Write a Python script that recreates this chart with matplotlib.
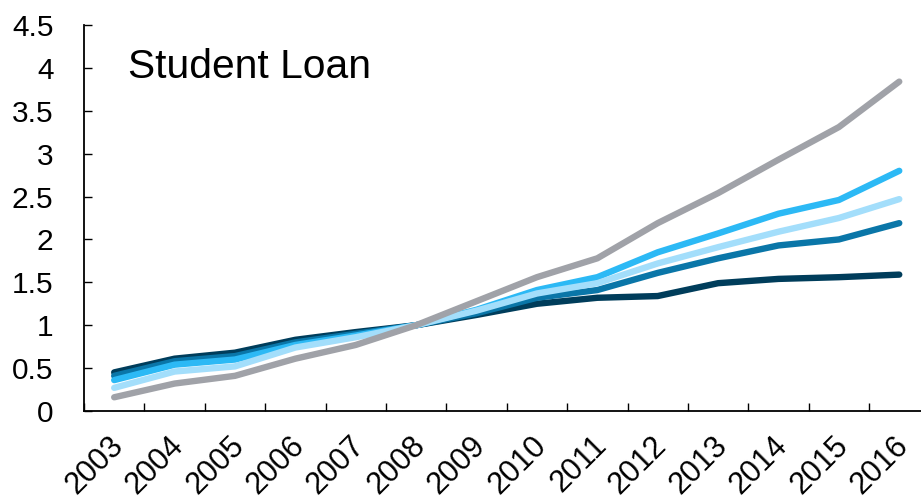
import matplotlib
matplotlib.use("Agg")
import matplotlib.pyplot as plt
import matplotlib.transforms as mtransforms
import numpy as np

plt.rcParams['font.family'] = ['Liberation Sans', 'DejaVu Sans']

years = ["2003", "2004", "2005", "2006", "2007", "2008", "2009",
         "2010", "2011", "2012", "2013", "2014", "2015", "2016"]

navy   = [0.45, 0.61, 0.68, 0.83, 0.92, 1.00, 1.12, 1.25, 1.32, 1.34, 1.49, 1.54, 1.56, 1.59]
medium = [0.41, 0.58, 0.64, 0.80, 0.90, 1.00, 1.14, 1.32, 1.41, 1.61, 1.78, 1.93, 2.00, 2.19]
bright = [0.36, 0.54, 0.60, 0.77, 0.88, 1.00, 1.18, 1.41, 1.56, 1.85, 2.07, 2.30, 2.46, 2.80]
light  = [0.27, 0.46, 0.52, 0.74, 0.86, 1.00, 1.17, 1.37, 1.49, 1.72, 1.91, 2.09, 2.25, 2.47]
gray   = [0.16, 0.32, 0.41, 0.61, 0.77, 1.00, 1.28, 1.56, 1.78, 2.19, 2.54, 2.93, 3.31, 3.84]

yticks = [0, 0.5, 1, 1.5, 2, 2.5, 3, 3.5, 4, 4.5]
ytick_labels = ["0", "0.5", "1", "1.5", "2", "2.5", "3", "3.5", "4", "4.5"]

series = [
    (navy, "#003d5b"),
    (medium, "#0a76a8"),
    (bright, "#2cb9f5"),
    (light, "#a3defb"),
    (gray, "#a0a2a8"),
]

fig = plt.figure(figsize=(9.21, 5.03), dpi=100)
ax = fig.add_axes([84/921, 92/503, 1 - 84/921, (411-25)/503])

x = np.arange(len(years))
for vals, col in series:
    ax.plot(x, vals, color=col, lw=4.6, solid_capstyle='round', solid_joinstyle='round')

ax.set_xlim(-0.5, 13.36)
ax.set_ylim(0, 4.5)

ax.spines['top'].set_visible(False)
ax.spines['right'].set_visible(False)
ax.spines['left'].set_linewidth(1.3)
ax.spines['bottom'].set_linewidth(1.3)

ax.set_yticks(yticks)
ax.set_yticklabels(ytick_labels)
ax.tick_params(axis='y', direction='in', length=6, width=1.0, labelsize=21.5, pad=22)

ax.set_xticks(x)
ax.set_xticklabels(years, rotation=45, ha='right', va='top', rotation_mode='anchor')
ax.tick_params(axis='x', which='major', length=0, labelsize=22, pad=14)
ax.set_xticks(np.arange(-0.5, 13.5, 1.0), minor=True)
ax.tick_params(axis='x', which='minor', direction='in', length=6, width=1.0)

offset = mtransforms.ScaledTranslation(-6/100, 0, fig.dpi_scale_trans)
for lab in ax.get_xticklabels():
    lab.set_transform(lab.get_transform() + offset)

ax.text(0.052, 0.89, "Student Loan", transform=ax.transAxes, fontsize=29.3,
        ha='left', va='center')

fig.savefig("out.png", dpi=100)
